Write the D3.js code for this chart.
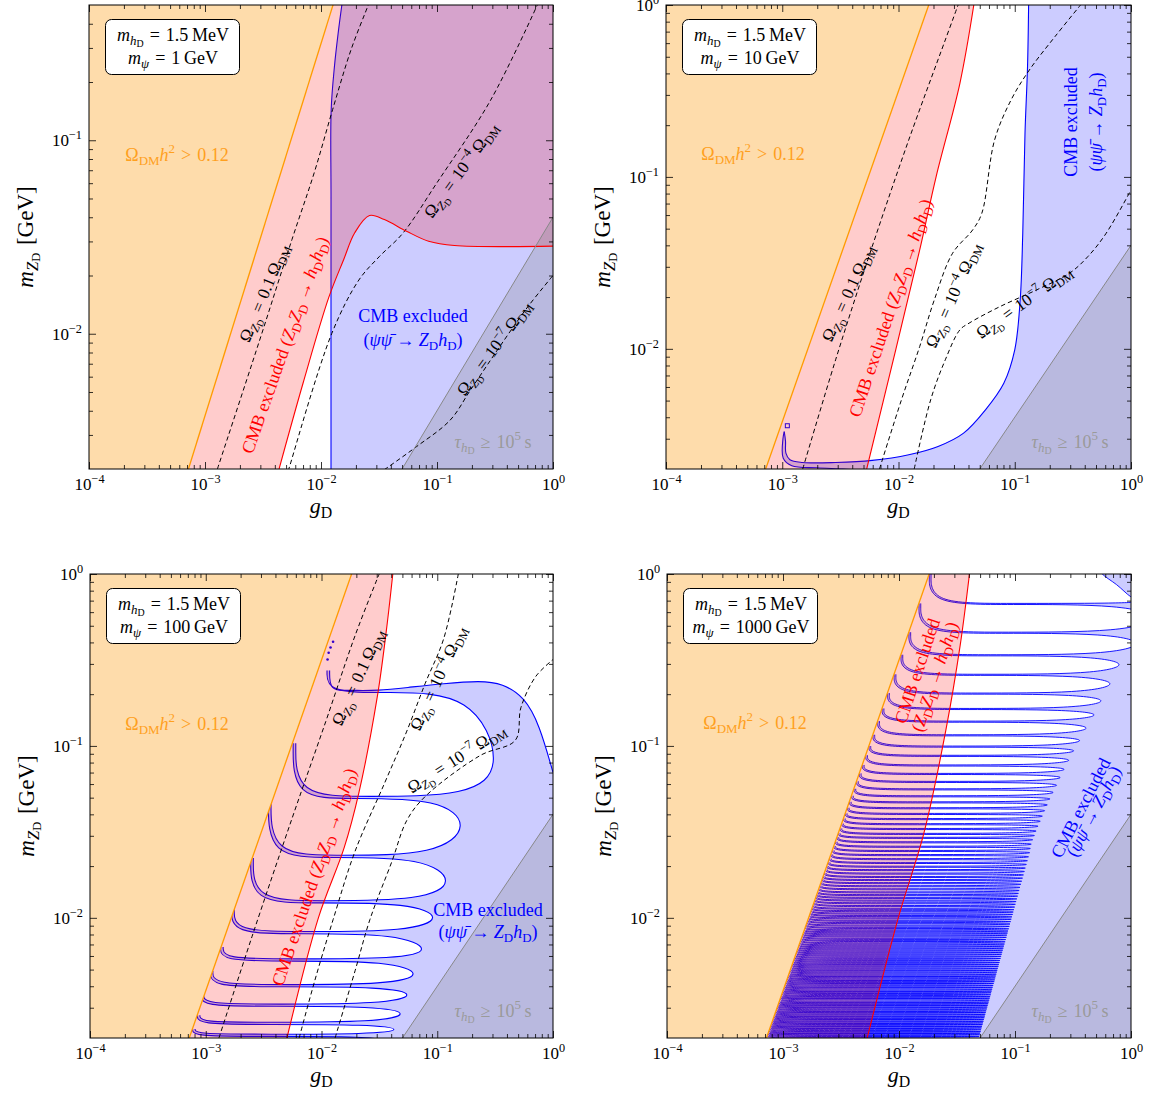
<!DOCTYPE html>
<html><head><meta charset="utf-8">
<script src="https://cdn.jsdelivr.net/npm/d3@7/dist/d3.min.js"></script>
<style>
html,body{margin:0;padding:0;background:#fff;}
text{font-family:"Liberation Serif","DejaVu Serif",serif;}
</style></head><body>
<svg id="fig" width="1153" height="1097" xmlns="http://www.w3.org/2000/svg"></svg>
<script>
// ================= DATA (g_D , m_ZD [GeV]) =================
const xTicks = [1e-4, 1e-3, 1e-2, 1e-1, 1];
const psiMasses = ["1", "10", "100", "1000"];
const hMass = "1.5";

const relicLine = [[7.2e-4, 0.002], [0.0182, 1.0]];          // Omega_DM h^2 = 0.12
const lifetimeLine = [[0.05, 0.002], [1.0, 0.04]];           // tau_hD = 1e5 s

// ---- m_psi = 1 GeV ----
const redTL = [[4.35e-3,0.002],[7.02e-3,5.58e-3],[0.01169,0.01545],[0.0157,0.02421],[0.01954,0.03327],[0.02618,0.04083],[0.03516,0.0389],[0.05458,0.03388],[0.0847,0.03006],[0.1413,0.02857],[1,0.02838]];
const cmbBlueTL = [[0.0122,0.0019],[0.0122,0.05],[0.01224,0.144],[0.01306,0.241],[0.01406,0.358],[0.01514,0.502]];
const omegaTL1 = [[1.279e-3,0.002],[2.911e-3,8.99e-3],[5.62e-3,0.0307],[8.73e-3,0.0678],[0.01259,0.1439],[0.01816,0.2938],[0.0253,0.492],[0.0262,0.52]];
const omegaTL2 = [[5.21e-3,0.00195],[5.36e-3,0.00206],[0.01239,0.01004],[0.02122,0.01896],[0.03175,0.02501],[0.05072,0.03305],[0.0992,0.05991],[0.2903,0.1614],[0.7345,0.5017]];
const omegaTL3 = [[0.035,0.00198],[0.0664,2.606e-3],[0.13,3.58e-3],[0.1944,5.12e-3],[0.3803,9.29e-3],[0.6074,0.0138],[1,0.0200]];

// ---- m_psi = 10 GeV ----
const redTR = [[5.325e-3,0.002],[9.51e-3,0.01],[0.01522,0.03763],[0.02108,0.1005],[0.03374,0.3505],[0.04444,1]];
const cmbBlueTRUpper = [[1.04e-3,3.3e-3],[1.067e-3,2.9e-3],[1.075e-3,2.473e-3],[1.164e-3,2.263e-3],[1.5e-3,2.183e-3],[2.877e-3,2.183e-3],[5.94e-3,2.244e-3],[0.01225,2.42e-3],[0.02188,2.705e-3],[0.0363,3.235e-3],[0.056,4.42e-3],[0.0805,6.31e-3],[0.1,9.87e-3],[0.1114,0.01928],[0.1172,0.047],[0.1225,0.1795],[0.1288,0.4378],[0.1316,1]];
const cmbBlueTRLower = [[1.04e-3,3.3e-3],[1.014e-3,3.0e-3],[1.02e-3,2.31e-3],[1.208e-3,2.088e-3],[2.005e-3,2.033e-3],[3.33e-3,2.0e-3],[4.5e-3,1.97e-3]];
const cmbBlueTRIsland = [[1.106e-3, 3.57e-3]];
const omegaTR1 = [[1.5e-3,0.002],[2.877e-3,8.63e-3],[5.94e-3,0.03936],[0.01225,0.1641],[0.02526,0.626],[0.03256,1]];
const omegaTR2 = [[6.86e-3,0.002],[0.0106,5.05e-3],[0.01522,0.01032],[0.02033,0.01927],[0.02919,0.03598],[0.04349,0.0492],[0.0521,0.0615],[0.0671,0.1641],[0.093,0.2804],[0.1336,0.4188],[0.2218,0.6546],[0.3681,1]];
const omegaTR3 = [[0.01365,0.002],[0.01891,5.05e-3],[0.02526,8.63e-3],[0.03374,0.0129],[0.04045,0.0141],[0.0748,0.01762],[0.1544,0.02203],[0.2962,0.02754],[0.4255,0.0344],[0.6112,0.047],[1,0.084]];

// ---- m_psi = 100 GeV ----
const redBL = [[5.03e-3,0.002],[9.4e-3,0.01],[0.0157,0.0256],[0.021,0.0532],[0.0303,0.192],[0.0365,0.481],[0.0413,1]];
const omegaBL1 = [[1.3e-3,0.002],[2.51e-3,7.78e-3],[5.62e-3,0.0386],[0.0109,0.139],[0.0195,0.438],[0.0315,1]];
const omegaBL2 = [[6.41e-3,0.002],[8.73e-3,4.29e-3],[0.0126,9.77e-3],[0.0195,0.0244],[0.0352,0.0611],[0.0546,0.122],[0.0787,0.231],[0.1135,0.419],[0.152,1]];
const omegaBL3 = [[0.0131,0.002],[0.0195,4.92e-3],[0.0262,9.77e-3],[0.0406,0.0213],[0.0546,0.0369],[0.0787,0.0508],[0.236,0.0881],[0.473,0.108],[0.528,0.167],[0.708,0.253],[1,0.318]];
const blBandLevel = [0.2105, 0.0509, 0.02313, 0.01258, 0.00833, 0.00577, 0.00409, 0.00315, 0.00247, 0.002105];
const blHookG     = [0.01145, 0.00584, 0.00357, 0.00251, 0.001717, 0.001378, 0.001122, 0.000935, 0.000868, 0.000789];
const blHookTop   = [0.2747, 0.1035, 0.0486, 0.0223, 0.01121, 0.00677, 0.00491, 0.00357, 0.00271, 0.002256];
const blTipG      = [0.3051, 0.1578, 0.1177, 0.0911, 0.0731, 0.0618, 0.0546, 0.0478, 0.0422, 0.040];
const blTipM      = [0.0751, 0.0345, 0.01618, 0.0100, 0.00647, 0.00469, 0.00357, 0.00277, 0.002235, 0.0019];
const blTopEnvelope = [[1,0.0701],[0.7627,0.1331],[0.5689,0.1921],[0.3664,0.2307],[0.2361,0.2394],[0.1135,0.2307],[0.05455,0.2184],[0.03034,0.2096]];
const blDots = [[0.01128,0.318],[0.01153,0.3486],[0.01197,0.3734],[0.01259,0.4036]];

// ---- m_psi = 1000 GeV ----
const brBandLevel = [
0.6745,0.4588,0.3391,0.2611,0.2030,0.1652,0.1394,0.1161,0.0998,0.0882,
0.0775,0.0692,0.0622,0.0563,0.0513,0.0473,0.0437,0.0405,0.0378,0.0353,
0.0331,0.0310,0.0294,0.0277,0.0261,
0.02466,0.02334,0.02210,0.02101,0.01997,0.01908,0.01822,0.01741,0.01671,0.01603,
0.01538,0.01476,0.01416,0.01365,0.01316,0.01269,0.01224,0.01179,0.01137,0.01101,
0.01066,0.01032,0.01000,0.00968,0.00938,0.00908,0.00880,0.00852,0.00829,0.00806,
0.00784,0.00760,0.00739,0.00716,0.00696,0.00677,0.00659,0.00641,0.00624,0.00607,
0.00590,0.00574,0.00559,0.00544,0.00531,0.00517,0.00503,0.00491,0.00478,0.00465,
0.00455,0.00442,0.00432,0.00421,0.00411,0.00400,0.00391,0.00380,0.00372,0.00363,
0.00353,0.00345,0.00338,0.00328,0.00321,0.00314,0.00307,0.00300,0.00292,0.00285,
0.00279,0.00272,0.00266,0.00260,0.00254,0.00248,0.00243,0.00237,0.00232,0.00227,
0.00221,0.00216,0.00212,0.00207,0.00202];
const brTipG = [
1.5,1.1,0.787,0.657,0.55,0.48,0.41,0.36,0.32,0.29,
0.265,0.245,0.228,0.213,0.200,0.190,0.180,0.172,0.165,0.158,
0.152,0.147,0.142,0.138,0.1355,
0.1337,0.1307,0.1279,0.1253,0.1227,0.1205,0.1183,0.1161,0.1142,0.1123,
0.1104,0.1086,0.1069,0.1053,0.1037,0.1022,0.1007,0.0992,0.0978,0.0965,
0.0953,0.0940,0.0928,0.0917,0.0905,0.0893,0.0882,0.0870,0.0861,0.0851,
0.0842,0.0831,0.0822,0.0811,0.0802,0.0793,0.0784,0.0775,0.0767,0.0759,
0.0750,0.0742,0.0734,0.0726,0.0719,0.0711,0.0703,0.0697,0.0689,0.0681,
0.0675,0.0668,0.0662,0.0654,0.0648,0.0641,0.0635,0.0628,0.0622,0.0617,
0.0610,0.0604,0.0599,0.0592,0.0587,0.0581,0.0576,0.0571,0.0564,0.0559,
0.0554,0.0549,0.0544,0.0539,0.0534,0.0529,0.0524,0.0519,0.0514,0.0510,
0.0505,0.0500,0.0496,0.0491,0.0487];
const brFirstHookTop = 1.0;
const brTopEnvelope = [[0.45,1.3],[0.529,1.0],[0.7596,0.88],[1.0,0.7157],[1.3,0.69]];
const redBR = [[5.32e-3,0.002],[9.86e-3,0.01],[0.01637,0.031],[0.0253,0.1227],[0.0337,0.3855],[0.0405,1]];

// ================= STYLE / LAYOUT =================
const C = {
  orangeFill:"#fedcab", orangeLine:"#ff9a00", orangeText:"#ffa01e",
  redFill:"rgba(255,0,0,0.2)", red:"#ff0000",
  blueFill:"rgba(0,0,255,0.2)", blue:"#0000ff",
  grayFill:"rgba(128,128,128,0.25)", grayLine:"#888888", grayText:"#9a9a9a"
};
const SP = "\u2004";   // math spacing around relations
const panelsCfg = [
  {key:"tl", box:{x:89,y:5,w:464,h:464}, yDomain:[0.002,0.5], yMajor:[0.01,0.1], psi:0,
   red:redTL, omega:[omegaTL1,omegaTL2,omegaTL3], blue:"tl",
   L:{orange:[88,150], blueH:[[324,311],[324,335]], redRot:{c:[196,340],a:-70.5},
      om:[{c:[175,288],a:-67.4,v:"0.1"},{c:[372,165],a:-54,v:"4"},{c:[405,343],a:-53.7,v:"7"}], tau:[404,437]}},
  {key:"tr", box:{x:666,y:5,w:465,h:464}, yDomain:[0.002,1], yMajor:[0.01,0.1,1], psi:1,
   red:redTR, omega:[omegaTR1,omegaTR2,omegaTR3], blue:"tr",
   L:{orange:[87,149], blueV:[[405,117],[430,117]], redRot:{c:[224.5,303],a:-71.5},
      om:[{c:[182,288],a:-65.6,v:"0.1"},{c:[287,290],a:-66.3,v:"4"},{c:[358,297],a:-35.5,v:"7"}], tau:[404,437]}},
  {key:"bl", box:{x:90,y:574,w:463,h:464}, yDomain:[0.002,1], yMajor:[0.01,0.1,1], psi:2,
   red:redBL, omega:[omegaBL1,omegaBL2,omegaBL3], blue:"bl",
   L:{orange:[87,150], blueH:[[398,336],[398,358]], redRot:{c:[224,303],a:-71.1},
      om:[{c:[268,103],a:-65.4,v:"0.1"},{c:[348,104],a:-65.5,v:"4"},{c:[366.5,184.6],a:-32.6,v:"7"}], tau:[403,437]}},
  {key:"br", box:{x:667,y:574,w:464,h:464}, yDomain:[0.002,1], yMajor:[0.01,0.1,1], psi:3,
   red:redBR, omega:[], blue:"br",
   L:{orange:[88,149], blueRot2:{c:[[413.7,233.9],[426.5,237.3]],a:-62.8}, redRot2:{c:[[250.3,96.9],[267.8,102.7]],a:-71.6}, tau:[403,437]}}
];

// ================= HELPERS =================
function rich(sel, segs, fs) {
  let cur = 0;
  for (const s of segs) {
    const str = s[0], st = s[1] || "";
    let shift = 0, size = fs;
    if (st.includes("b")) { shift = 0.22*fs; size = 0.72*fs; }
    if (st.includes("B")) { shift = 0.34*fs; size = 0.55*fs; }
    if (st.includes("p")) { shift = -0.42*fs; size = 0.72*fs; }
    sel.append("tspan").attr("dy", (shift-cur).toFixed(2)).attr("font-size", size.toFixed(2))
      .attr("font-style", st.includes("i") ? "italic" : "normal").text(str);
    cur = shift;
  }
  return sel;
}
const SEG = {
  omegaDM: [["Ω"],["DM","b"],["h","i"],["2","p"],[SP+">"+SP+"0.12"]],
  cmb: [["CMB excluded"]],
  blueProc: [["("],["ψψ\u0304","i"],[" → "],["Z","i"],["D","b"],["h","i"],["D","b"],[")"]],
  redProc: [["("],["Z","i"],["D","b"],["Z","i"],["D","b"],[" → "],["h","i"],["D","b"],["h","i"],["D","b"],[")"]],
  tau: [["τ","i"],["h","ib"],["D","B"],[SP+"≥"+SP+"10"],["5","p"],["\u2009s"]],
  ylab: [["m","i"],["Z","ib"],["D","B"],["\u2004[GeV]"]],
  xlab: [["g","i"],["D","b"]]
};
function omegaSeg(v) {
  const head = [["Ω"],["Z","ib"],["D","B"]];
  if (v === "0.1") return head.concat([[SP+"="+SP+"0.1\u2009Ω"],["DM","b"]]);
  return head.concat([[SP+"="+SP+"10"],["−"+v,"p"],["\u2009Ω"],["DM","b"]]);
}

const svg = d3.select("#fig");
svg.append("rect").attr("width",1153).attr("height",1097).attr("fill","#fff");
const defs = svg.append("defs");
const basis = d3.line().curve(d3.curveBasis);

function drawPanel(cfg) {
  const {box, yDomain} = cfg, w = box.w, h = box.h;
  const x = d3.scaleLog().domain([1e-4, 1]).range([0, w]);
  const y = d3.scaleLog().domain(yDomain).range([h, 0]);
  const root = svg.append("g").attr("transform", `translate(${box.x},${box.y})`);
  defs.append("clipPath").attr("id","clip-"+cfg.key).append("rect").attr("width",w).attr("height",h);
  const p0 = [x(relicLine[0][0]), y(relicLine[0][1])], p1 = [x(relicLine[1][0]), y(relicLine[1][1])];
  const dx = p1[0]-p0[0], dy = p1[1]-p0[1];
  const q0 = [p0[0]-0.4*dx, p0[1]-0.4*dy], q1 = [p1[0]+0.8*dx, p1[1]+0.8*dy];
  defs.append("clipPath").attr("id","roo-"+cfg.key).append("path")
    .attr("d", `M${q0}L${q1}L${w+300},${q1[1]}L${w+300},${q0[1]}Z`);

  const plot = root.append("g").attr("clip-path", `url(#clip-${cfg.key})`);
  const lin = d3.line().x(d=>x(d[0])).y(d=>y(d[1]));
  const smooth = d3.line().x(d=>x(d[0])).y(d=>y(d[1])).curve(d3.curveCatmullRom.alpha(0.5));

  // blue (psi psibar -> Z_D h_D) region
  const blueStrokes = [];
  const rooG = plot.append("g").attr("clip-path", `url(#roo-${cfg.key})`);
  if (cfg.blue === "tl") {
    const d = smooth(cmbBlueTL) + `L${w+10},-10L${w+10},${h+10}Z`;
    rooG.append("path").attr("d", d).attr("fill", C.blueFill);
    blueStrokes.push(smooth(cmbBlueTL));
  } else if (cfg.blue === "tr") {
    const lowRev = cmbBlueTRLower.slice().reverse();
    const d = smooth(cmbBlueTRUpper) + `L${w+10},-10L${w+10},${h+10}` + smooth(lowRev).replace(/^M/,"L") + "Z";
    rooG.append("path").attr("d", d).attr("fill", C.blueFill);
    blueStrokes.push(smooth(cmbBlueTRUpper), smooth(cmbBlueTRLower));
  } else {
    const isBL = cfg.blue === "bl";
    const levels = isBL ? blBandLevel : brBandLevel;
    const tipG = isBL ? blTipG : brTipG;
    const N = levels.length;
    const lrel = relicLine.map(p => [Math.log10(p[0]), Math.log10(p[1])]);
    const orangeG = m => Math.pow(10, lrel[0][0] + (Math.log10(m)-lrel[0][1])*(lrel[1][0]-lrel[0][0])/(lrel[1][1]-lrel[0][1]));
    const hookTop = isBL ? blHookTop : levels.map((v,i) => i===0 ? brFirstHookTop : levels[i-1]);
    const hookG = isBL ? blHookG : hookTop.map(m => orangeG(m)*1.02);
    const tipM = isBL ? blTipM : levels.map((v,i) => i < N-1 ? Math.sqrt(v*levels[i+1]) : v*0.95);
    const hw = isBL ? 1.3 : 0.9, bt = isBL ? 2.2 : 1.1;
    const FL = -120;
    let fillD = `M${FL},-120H${w+120}V${h+120}H${FL}Z`;
    {
      const a0 = x(hookG[0]) + hw, t0 = y(hookTop[0]), L0 = y(levels[0]);
      const env = (isBL ? blTopEnvelope : brTopEnvelope).map(p => [x(p[0]), y(p[1])]);
      const xe = env[env.length-1][0];
      const pts = env.concat([[isBL ? a0 + 0.5*(xe-a0) : xe - 0.12*(xe-a0), L0], [a0 + 0.35*(xe-a0), L0], [a0, L0], [a0, t0]]);
      const d = basis(pts);
      blueStrokes.push(d);
      fillD += `M${FL},-120L${env[0][0]},-120` + d.replace(/^M/,"L") + `L${FL},${t0}Z`;
    }
    for (let k = 0; k < N; k++) {
      const a = x(hookG[k]) - hw, t = y(hookTop[k]), L = y(levels[k]) + bt;
      const tx = x(tipG[k]), ty = y(tipM[k]);
      const pts = [[a,t],[a,L],[a+0.35*(tx-a),L],[tx-0.12*(tx-a),L]];
      if (k+1 < N) {
        const an = x(hookG[k+1]) + hw, tn = y(hookTop[k+1]), Ln = y(levels[k+1]);
        const s = ((tx-a)+(tx-an))/2;
        pts.push([tx+0.06*s, ty],[tx-0.12*(tx-an),Ln],[an+0.35*(tx-an),Ln],[an,Ln],[an,tn]);
        const d = basis(pts);
        blueStrokes.push(d);
        fillD += d + `L${FL},${tn}L${FL},${t}Z`;
      } else {
        pts.push([tx+0.06*(tx-a), ty],[tx-0.12*(tx-a), h+40],[FL, h+40]);
        const d = basis(pts);
        blueStrokes.push(d);
        fillD += d + `L${FL},${t}Z`;
      }
    }
    rooG.append("path").attr("d", fillD).attr("fill", C.blueFill).attr("fill-rule","evenodd");
  }
  blueStrokes.forEach(d => rooG.append("path").attr("d", d).attr("fill","none")
    .attr("stroke", C.blue).attr("stroke-width", cfg.blue === "br" ? 0.9 : 1.1));
  if (cfg.blue === "tr") cmbBlueTRIsland.forEach(p => plot.append("rect")
      .attr("x", x(p[0])-2).attr("y", y(p[1])-2).attr("width",4).attr("height",4)
      .attr("fill","none").attr("stroke",C.blue).attr("stroke-width",1));
  if (cfg.blue === "bl") blDots.forEach(p => plot.append("circle")
      .attr("cx", x(p[0])).attr("cy", y(p[1])).attr("r",1.3).attr("fill",C.blue));

  // red (Z_D Z_D -> h_D h_D) region, drawn over blue
  const redRev = cfg.red.slice().reverse();
  const redD = lin(relicLine.concat(cfg.red[cfg.red.length-1][0] >= 1 ? [[1.2, 1.5]] : [])) +
             smooth(redRev).replace(/^M/, "L") + "Z";
  plot.append("path").attr("d", redD).attr("fill", C.redFill);

  // orange relic-density region
  plot.append("path").attr("d", lin([[1e-4,0.002]].concat(relicLine, [[1e-4,1]])) + "Z").attr("fill", C.orangeFill);
  // lifetime region
  plot.append("path").attr("d", lin(lifetimeLine.concat([[1,0.002]])) + "Z").attr("fill", C.grayFill);

  // dashed Omega_ZD contours
  cfg.omega.forEach(c => plot.append("path").attr("d", smooth(c)).attr("fill","none")
    .attr("stroke","#000").attr("stroke-width",1).attr("stroke-dasharray","4.5,3"));
  // boundary lines
  plot.append("path").attr("d", smooth(cfg.red)).attr("fill","none").attr("stroke",C.red).attr("stroke-width",1.1);
  plot.append("path").attr("d", lin(relicLine)).attr("fill","none").attr("stroke",C.orangeLine).attr("stroke-width",1.3);
  plot.append("path").attr("d", lin(lifetimeLine)).attr("fill","none").attr("stroke",C.grayLine).attr("stroke-width",1);

  // ---------- annotations ----------
  const L = cfg.L, AF = 18;
  const htext = (c, segs, color, fs) => rich(root.append("text").attr("x", c[0]).attr("y", c[1]+0.33*fs)
      .attr("text-anchor","middle").attr("fill", color).attr("font-size", fs), segs, fs);
  const rtext = (c, a, segs, color, fs) => rich(root.append("text")
      .attr("transform", `translate(${c[0]},${c[1]}) rotate(${a})`).attr("y", 0.33*fs)
      .attr("text-anchor","middle").attr("fill", color).attr("font-size", fs), segs, fs);
  htext(L.orange, SEG.omegaDM, C.orangeText, AF);
  htext(L.tau, SEG.tau, C.grayText, AF);
  if (L.blueH) { htext(L.blueH[0], SEG.cmb, C.blue, AF); htext(L.blueH[1], SEG.blueProc, C.blue, AF); }
  if (L.blueV) { rtext(L.blueV[0], -90, SEG.cmb, C.blue, AF); rtext(L.blueV[1], -90, SEG.blueProc, C.blue, AF); }
  if (L.blueRot2) { rtext(L.blueRot2.c[0], L.blueRot2.a, SEG.cmb, C.blue, AF); rtext(L.blueRot2.c[1], L.blueRot2.a, SEG.blueProc, C.blue, AF); }
  if (L.redRot) rtext(L.redRot.c, L.redRot.a, [["CMB excluded "]].concat(SEG.redProc), C.red, AF);
  if (L.redRot2) { rtext(L.redRot2.c[0], L.redRot2.a, SEG.cmb, C.red, AF); rtext(L.redRot2.c[1], L.redRot2.a, SEG.redProc, C.red, AF); }
  (L.om || []).forEach(o => rtext(o.c, o.a, omegaSeg(o.v), "#000", 17));

  // parameter box
  root.append("rect").attr("x",16.5).attr("y",14.5).attr("width",134).attr("height",55).attr("rx",6)
    .attr("fill","#fff").attr("stroke","#000").attr("stroke-width",1);
  htext([84,30], [["m","i"],["h","ib"],["D","B"],[SP+"="+SP + hMass + "\u2009MeV"]], "#000", AF);
  htext([84,53], [["m","i"],["ψ","ib"],[SP+"="+SP + psiMasses[cfg.psi] + "\u2009GeV"]], "#000", AF);

  // ---------- axes ----------
  const xMinor = [], yMinor = [];
  for (let e = -4; e < 0; e++) for (let k = 2; k <= 9; k++) xMinor.push(k*Math.pow(10,e));
  for (let e = -3; e < 0; e++) for (let k = 2; k <= 9; k++) { const v = k*Math.pow(10,e); if (v > yDomain[0]*1.0001 && v < yDomain[1]) yMinor.push(v); }
  const fmt = (sel, yPos) => sel.selectAll(".tick text").each(function(d) {
    const t = d3.select(this); t.text(null);
    const e = Math.round(Math.log10(d));
    rich(t, [["10"],[e < 0 ? "−" + (-e) : String(e), "p"]], 17);
  }).attr("font-family", '"Liberation Serif","DejaVu Serif",serif').attr("font-size", 17).attr("fill","#000")
    .attr("dy", null).attr("y", yPos);
  const clean = (sel) => { sel.select(".domain").remove(); sel.selectAll(".tick line").attr("stroke","#000").attr("stroke-width",0.8); };
  const gx = root.append("g").attr("transform",`translate(0,${h})`)
    .call(d3.axisBottom(x).tickValues(xTicks).tickSizeInner(-7).tickSizeOuter(0).tickPadding(9));
  clean(gx); fmt(gx, 21);
  root.append("g").attr("transform",`translate(0,${h})`).call(d3.axisBottom(x).tickValues(xMinor).tickSizeInner(-4).tickSizeOuter(0).tickFormat("")).call(clean);
  root.append("g").call(d3.axisTop(x).tickValues(xTicks).tickSizeInner(-7).tickSizeOuter(0).tickFormat("")).call(clean);
  root.append("g").call(d3.axisTop(x).tickValues(xMinor).tickSizeInner(-4).tickSizeOuter(0).tickFormat("")).call(clean);
  const gy = root.append("g").call(d3.axisLeft(y).tickValues(cfg.yMajor).tickSizeInner(-7).tickSizeOuter(0).tickPadding(7));
  clean(gy); fmt(gy, 5.5);
  root.append("g").call(d3.axisLeft(y).tickValues(yMinor).tickSizeInner(-4).tickSizeOuter(0).tickFormat("")).call(clean);
  root.append("g").attr("transform",`translate(${w},0)`).call(d3.axisRight(y).tickValues(cfg.yMajor).tickSizeInner(-7).tickSizeOuter(0).tickFormat("")).call(clean);
  root.append("g").attr("transform",`translate(${w},0)`).call(d3.axisRight(y).tickValues(yMinor).tickSizeInner(-4).tickSizeOuter(0).tickFormat("")).call(clean);
  root.append("rect").attr("width",w).attr("height",h).attr("fill","none").attr("stroke","#000").attr("stroke-width",1);

  // axis titles
  rich(root.append("text").attr("x", w/2).attr("y", h+44).attr("text-anchor","middle").attr("font-size",22).attr("fill","#000"), SEG.xlab, 22);
  rich(root.append("text").attr("transform",`translate(-64,${h/2}) rotate(-90)`).attr("y", 7.5)
    .attr("text-anchor","middle").attr("font-size",23).attr("fill","#000"), SEG.ylab, 23);
}
panelsCfg.forEach(drawPanel);
</script>
</body></html>
